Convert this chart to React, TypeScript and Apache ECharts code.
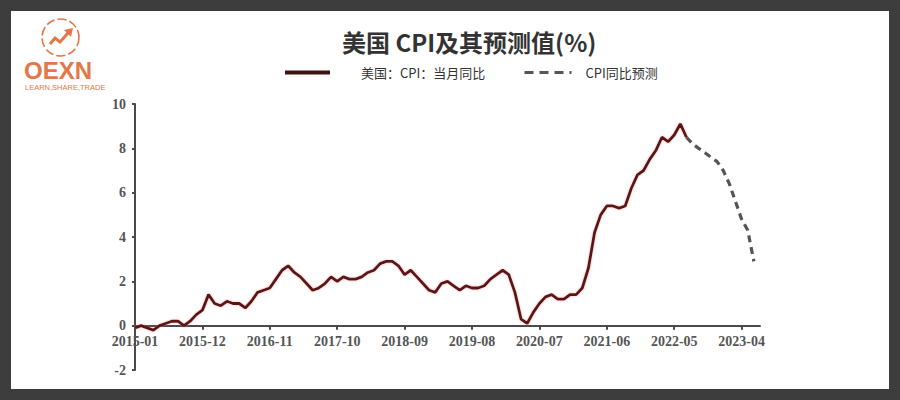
import React, { useEffect, useRef } from "react";
import * as echarts from "echarts";

// Month categories 2015-01 .. 2023-07
const startYear = 2015;
const monthCount = 103;
const categories: string[] = [];
for (let i = 0; i < monthCount; i++) {
  const y = startYear + Math.floor(i / 12);
  const m = (i % 12) + 1;
  categories.push(`${y}-${m < 10 ? "0" + m : m}`);
}

// 美国：CPI：当月同比 (2015-01 .. 2022-07)
const cpiActual: number[] = [
  -0.1, 0.0, -0.1, -0.2, 0.0, 0.1, 0.2, 0.2, 0.0, 0.2, 0.5, 0.7,
  1.4, 1.0, 0.9, 1.1, 1.0, 1.0, 0.8, 1.1, 1.5, 1.6, 1.7, 2.1,
  2.5, 2.7, 2.4, 2.2, 1.9, 1.6, 1.7, 1.9, 2.2, 2.0, 2.2, 2.1,
  2.1, 2.2, 2.4, 2.5, 2.8, 2.9, 2.9, 2.7, 2.3, 2.5, 2.2, 1.9,
  1.6, 1.5, 1.9, 2.0, 1.8, 1.6, 1.8, 1.7, 1.7, 1.8, 2.1, 2.3,
  2.5, 2.3, 1.5, 0.3, 0.1, 0.6, 1.0, 1.3, 1.4, 1.2, 1.2, 1.4,
  1.4, 1.7, 2.6, 4.2, 5.0, 5.4, 5.4, 5.3, 5.4, 6.2, 6.8, 7.0,
  7.5, 7.9, 8.5, 8.3, 8.6, 9.1, 8.5,
];

// CPI同比预测 (2022-07 .. 2023-06)
const forecastStartIndex = 90;
const cpiForecast: number[] = [8.5, 8.2, 8.0, 7.8, 7.6, 7.4, 7.0, 6.4, 5.6, 4.8, 4.3, 2.9];

const yTicks = { min: -2, max: 10, interval: 2 };

const actualName = "美国：CPI：当月同比";
const forecastName = "CPI同比预测";
const titleText = "美国 CPI及其预测值(%)";

const orange = "#E2774A";

const GRID_TOP = 93;
const GRID_BOTTOM = 19;
const CHART_H = 378;

export default function App() {
  const ref = useRef<HTMLDivElement>(null);
  useEffect(() => {
    if (!ref.current) return;
    const chart = echarts.init(ref.current, undefined, { renderer: "svg" });
    const actualData: (number | null)[] = categories.map((_, i) =>
      i < cpiActual.length ? cpiActual[i] : null
    );
    const forecastData: (number | null)[] = categories.map((_, i) => {
      const k = i - forecastStartIndex;
      return k >= 0 && k < cpiForecast.length ? cpiForecast[k] : null;
    });
    const gridH = CHART_H - GRID_TOP - GRID_BOTTOM;
    const zeroFromBottom = (gridH * (0 - yTicks.min)) / (yTicks.max - yTicks.min);
    const axisFont = {
      fontFamily: '"Liberation Serif", "Times New Roman", serif',
      fontWeight: "bold" as const,
      fontSize: 14,
      color: "#555",
    };
    const cjk = '"Noto Sans CJK SC", "Noto Sans", sans-serif';
    chart.setOption({
      animation: false,
      backgroundColor: "#ffffff",
      title: {
        text: titleText,
        left: 326,
        top: 13,
        textStyle: { fontSize: 24, fontWeight: "bold", color: "#333", fontFamily: cjk },
      },
      legend: [
        {
          data: [actualName],
          left: 267,
          top: 50,
          itemWidth: 45,
          itemHeight: 14,
          itemStyle: { opacity: 0 },
          lineStyle: { width: 4, color: "#3f1212" },
          textStyle: { fontSize: 13, color: "#333", fontFamily: cjk, padding: [0, 0, 0, 26] },
        },
        {
          data: [forecastName],
          left: 507,
          top: 50,
          itemWidth: 47,
          itemHeight: 14,
          itemStyle: { opacity: 0 },
          lineStyle: { width: 3, color: "#555", type: [9, 6] },
          textStyle: { fontSize: 13, color: "#333", fontFamily: cjk, padding: [0, 0, 0, 9] },
        },
      ],
      grid: {
        left: 124,
        right: 129,
        top: GRID_TOP,
        bottom: GRID_BOTTOM,
        containLabel: false,
        outerBoundsMode: "none",
      },
      xAxis: {
        type: "category",
        data: categories,
        boundaryGap: false,
        position: "bottom",
        offset: -zeroFromBottom,
        axisLine: { onZero: false, lineStyle: { color: "#4a4a4a", width: 2 } },
        axisTick: { show: true, interval: 10, length: 4, lineStyle: { color: "#4a4a4a", width: 2 } },
        axisLabel: { interval: 10, margin: 9, ...axisFont },
        splitLine: { show: false },
      },
      yAxis: {
        type: "value",
        min: yTicks.min,
        max: yTicks.max,
        interval: yTicks.interval,
        axisLine: { show: true, lineStyle: { color: "#4a4a4a", width: 2 } },
        axisTick: { show: true, length: 3, lineStyle: { color: "#4a4a4a", width: 2 } },
        axisLabel: { margin: 9, ...axisFont },
        splitLine: { show: false },
      },
      series: [
        {
          name: actualName,
          type: "line",
          data: actualData,
          symbol: "none",
          connectNulls: false,
          lineStyle: {
            color: "#5a1616",
            width: 2.8,
            shadowColor: "rgba(240,120,120,0.6)",
            shadowBlur: 2,
          },
          itemStyle: { color: "#5a1616" },
          z: 3,
        },
        {
          name: forecastName,
          type: "line",
          data: forecastData,
          symbol: "none",
          lineStyle: { color: "#555", width: 3.2, type: [7, 5] },
          itemStyle: { color: "#555" },
          z: 2,
        },
      ],
      graphic: [
        {
          type: "circle",
          shape: { cx: 49.5, cy: 26.5, r: 18.5 },
          style: { fill: "none", stroke: orange, lineWidth: 1.6, lineDash: [9, 3] },
        },
        {
          type: "polyline",
          shape: { points: [[39, 33], [44, 27], [49, 31], [57, 22]] },
          style: { fill: "none", stroke: orange, lineWidth: 3, lineJoin: "miter" },
        },
        {
          type: "polygon",
          shape: { points: [[62, 17], [53, 19], [60, 26]] },
          style: { fill: orange },
        },
        {
          type: "text",
          x: 13,
          y: 59,
          style: {
            text: "OEXN",
            fill: orange,
            fontSize: 24,
            fontWeight: "bold",
            fontFamily: '"Liberation Sans", Arial, sans-serif',
            textVerticalAlign: "middle",
          },
        },
        {
          type: "text",
          x: 14,
          y: 76.5,
          style: {
            text: "LEARN,SHARE,TRADE",
            fill: orange,
            fontSize: 7.5,
            fontFamily: '"Liberation Sans", Arial, sans-serif',
            textVerticalAlign: "middle",
          },
        },
      ],
    });
    return () => chart.dispose();
  }, []);
  return (
    <div
      style={{
        position: "absolute",
        left: 0,
        top: 0,
        width: 900,
        height: 400,
        background: "#3d3d3d",
      }}
    >
      <div
        ref={ref}
        style={{ position: "absolute", left: 11, top: 11, width: 878, height: 378, background: "#fff" }}
      />
    </div>
  );
}
